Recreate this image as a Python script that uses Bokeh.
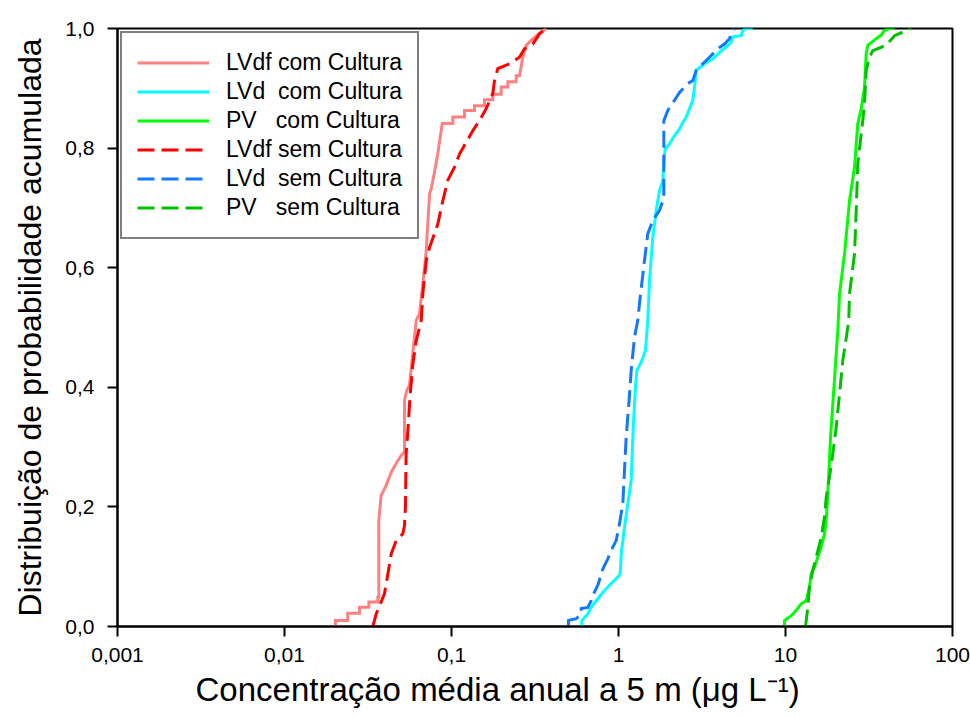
from bokeh.plotting import figure
from bokeh.models import (Range1d, FixedTicker, CustomJSTickFormatter, Legend, LegendItem,
                          ColumnDataSource, Title)
from bokeh.embed import file_html
from bokeh.resources import INLINE

# ---------------- data ----------------
x_ticks = [0.001, 0.01, 0.1, 1, 10, 100]
x_tick_labels = ["0,001", "0,01", "0,1", "1", "10", "100"]
y_ticks = [0.0, 0.2, 0.4, 0.6, 0.8, 1.0]
y_tick_labels = ["0,0", "0,2", "0,4", "0,6", "0,8", "1,0"]

series_labels = ["LVdf com Cultura", "LVd\u00a0\u00a0com Cultura", "PV\u00a0\u00a0\u00a0com Cultura",
                 "LVdf sem Cultura", "LVd\u00a0\u00a0sem Cultura", "PV\u00a0\u00a0\u00a0sem Cultura"]

lvdf_com_x = [0.0202, 0.0202, 0.0239, 0.0239, 0.0281, 0.0281, 0.0320, 0.0320, 0.0362, 0.0362,
              0.0367, 0.0367, 0.0379, 0.0406, 0.0436, 0.0467, 0.0500, 0.0523, 0.0523, 0.0540,
              0.0560, 0.0615, 0.0643, 0.0670, 0.0706, 0.0739, 0.0756, 0.0791, 0.0828, 0.0880,
              0.1018, 0.1018, 0.1196, 0.1196, 0.1373, 0.1373, 0.1576, 0.1576, 0.1767, 0.1767,
              0.1984, 0.1984, 0.2174, 0.2174, 0.2440, 0.2440, 0.2554, 0.2673, 0.2802, 0.300,
              0.330, 0.369]
lvdf_com_y = [0.000, 0.010, 0.010, 0.022, 0.022, 0.032, 0.032, 0.041, 0.041, 0.049,
              0.049, 0.177, 0.219, 0.236, 0.258, 0.273, 0.286, 0.292, 0.378, 0.395,
              0.403, 0.512, 0.523, 0.567, 0.629, 0.724, 0.732, 0.760, 0.791, 0.841,
              0.841, 0.852, 0.852, 0.863, 0.863, 0.871, 0.871, 0.881, 0.881, 0.890,
              0.890, 0.902, 0.902, 0.911, 0.911, 0.921, 0.921, 0.952, 0.972, 0.980,
              0.990, 1.000]

lvd_com_x = [0.6029, 0.6029, 0.6551, 0.6863, 0.7357, 0.8054, 0.8834, 0.9687, 1.024, 1.038,
             1.086, 1.137, 1.191, 1.208, 1.230, 1.264, 1.287, 1.367, 1.451, 1.498,
             1.533, 1.605, 1.682, 1.761, 1.843, 1.886, 1.912, 2.020, 2.165, 2.320,
             2.427, 2.543, 2.662, 2.786, 2.852, 2.920, 3.273, 3.670, 4.025, 4.414,
             4.730, 4.835, 5.428, 5.549, 5.815, 6.370]
lvd_com_y = [0.000, 0.010, 0.021, 0.032, 0.043, 0.057, 0.069, 0.080, 0.088, 0.122,
             0.166, 0.205, 0.244, 0.289, 0.344, 0.400, 0.428, 0.442, 0.462, 0.512,
             0.579, 0.651, 0.696, 0.729, 0.746, 0.790, 0.799, 0.807, 0.821, 0.832,
             0.843, 0.852, 0.866, 0.880, 0.902, 0.930, 0.941, 0.949, 0.960, 0.969,
             0.977, 0.986, 0.988, 0.997, 1.000, 1.000]

pv_com_x = [9.863, 9.863, 10.82, 11.59, 12.42, 13.30, 13.92, 14.25, 14.92, 15.61,
            16.36, 17.12, 17.53, 17.92, 18.34, 18.60, 19.20, 19.93, 20.57, 21.06,
            22.56, 24.17, 25.90, 26.51, 27.10, 28.40, 29.72, 30.42, 31.10, 34.92,
            37.42, 39.15, 41.96, 44.95]
pv_com_y = [0.000, 0.010, 0.018, 0.027, 0.038, 0.043, 0.066, 0.088, 0.099, 0.116,
            0.133, 0.155, 0.177, 0.222, 0.278, 0.317, 0.372, 0.439, 0.495, 0.556,
            0.623, 0.712, 0.768, 0.807, 0.841, 0.866, 0.902, 0.958, 0.972, 0.983,
            0.989, 0.997, 1.000, 1.000]

lvdf_sem_x = [0.0338, 0.0354, 0.0379, 0.0397, 0.0416, 0.0436, 0.0467, 0.0511, 0.0523, 0.0530,
              0.0535, 0.0548, 0.0566, 0.0587, 0.0615, 0.0659, 0.0673, 0.0706, 0.0739, 0.0791,
              0.0828, 0.0887, 0.0950, 0.1042, 0.1117, 0.1225, 0.1341, 0.1471, 0.1613, 0.1767,
              0.1809, 0.1893, 0.2226, 0.2554, 0.2735, 0.3067, 0.3364, 0.3691]
lvdf_sem_y = [0.000, 0.021, 0.041, 0.055, 0.088, 0.122, 0.144, 0.155, 0.169, 0.200,
              0.289, 0.328, 0.389, 0.439, 0.478, 0.512, 0.556, 0.612, 0.634, 0.657,
              0.673, 0.712, 0.746, 0.768, 0.790, 0.810, 0.829, 0.846, 0.866, 0.891,
              0.913, 0.933, 0.941, 0.952, 0.966, 0.974, 0.991, 1.000]

lvd_sem_x = [0.502, 0.502, 0.558, 0.598, 0.598, 0.655, 0.686, 0.702, 0.752, 0.805,
             0.863, 0.904, 0.969, 1.014, 1.061, 1.086, 1.112, 1.153, 1.191, 1.247,
             1.305, 1.335, 1.431, 1.498, 1.605, 1.761, 1.843, 1.868, 1.868, 1.974,
             2.165, 2.320, 2.600, 2.786, 2.920, 3.197, 3.506, 3.932, 4.312, 4.620,
             4.835, 4.950]
lvd_sem_y = [0.000, 0.010, 0.013, 0.021, 0.030, 0.032, 0.043, 0.052, 0.069, 0.096,
             0.113, 0.127, 0.144, 0.172, 0.205, 0.261, 0.317, 0.372, 0.428, 0.484,
             0.512, 0.540, 0.612, 0.657, 0.679, 0.696, 0.712, 0.724, 0.846, 0.863,
             0.880, 0.893, 0.908, 0.913, 0.930, 0.941, 0.952, 0.966, 0.974, 0.983,
             0.997, 1.000]

pv_sem_x = [13.18, 13.60, 13.92, 14.57, 15.27, 16.36, 17.12, 17.53, 18.34, 19.20,
            20.12, 21.06, 22.04, 23.29, 23.93, 24.17, 25.90, 26.51, 27.10, 28.40,
            29.03, 29.72, 30.42, 31.84, 33.33, 40.09, 44.95, 50.39, 52.81, 56.58]
pv_sem_y = [0.000, 0.032, 0.066, 0.094, 0.116, 0.149, 0.183, 0.216, 0.250, 0.289,
            0.333, 0.389, 0.445, 0.489, 0.512, 0.556, 0.623, 0.696, 0.774, 0.824,
            0.846, 0.874, 0.930, 0.952, 0.963, 0.972, 0.988, 0.994, 1.000, 1.000]

x_title = "Concentração média anual a 5 m (μg L\u207b\u00b9)"
y_title = "Distribuição de probabilidade acumulada"

# ---------------- styles ----------------
FONT = "Liberation Sans"
series = [
    (lvdf_com_x, lvdf_com_y, "#FF8080", "solid"),
    (lvd_com_x, lvd_com_y, "#00FFFF", "solid"),
    (pv_com_x, pv_com_y, "#00FF00", "solid"),
    (lvdf_sem_x, lvdf_sem_y, "#FF0000", "17 7"),
    (lvd_sem_x, lvd_sem_y, "#1478FF", "17 7"),
    (pv_sem_x, pv_sem_y, "#00C000", "17 7"),
]

p = figure(width=970, height=718, x_axis_type="log",
           x_range=Range1d(0.001, 100), y_range=Range1d(0, 1),
           output_backend="svg", toolbar_location=None,
           min_border_left=117, min_border_right=18, min_border_top=28, min_border_bottom=92,
           background_fill_color="white", border_fill_color="white")

p.xgrid.visible = False
p.ygrid.visible = False
p.outline_line_color = "black"
p.outline_line_width = 2

renderers = []
for xs, ys, col, dash in series:
    src = ColumnDataSource(dict(x=xs, y=ys))
    r = p.line("x", "y", source=src, line_color=col, line_width=3, line_dash=dash,
               line_join="miter")
    renderers.append(r)

fmt_code = """
const k = vals.findIndex(v => Math.abs(v - tick) <= 1e-9 * Math.max(1, Math.abs(v)));
return k >= 0 ? labs[k] : "";
"""

xa = p.xaxis[0]
xa.ticker = FixedTicker(ticks=x_ticks, minor_ticks=[])
xa.formatter = CustomJSTickFormatter(args=dict(vals=x_ticks, labs=x_tick_labels), code=fmt_code)
ya = p.yaxis[0]
ya.ticker = FixedTicker(ticks=y_ticks, minor_ticks=[])
ya.formatter = CustomJSTickFormatter(args=dict(vals=y_ticks, labs=y_tick_labels), code=fmt_code)

for ax in (xa, ya):
    ax.axis_line_width = 2
    ax.axis_line_color = "black"
    ax.major_tick_line_width = 2
    ax.major_tick_line_color = "black"
    ax.major_tick_out = 10
    ax.major_tick_in = 0
    ax.minor_tick_out = 0
    ax.minor_tick_in = 0
    ax.major_label_text_font = FONT
    ax.major_label_text_font_size = "21px"
    ax.major_label_text_color = "black"
    ax.axis_label_text_font = FONT
    ax.axis_label_text_font_size = "32px"
    ax.axis_label_text_font_style = "normal"
    ax.axis_label_text_color = "black"

ya.axis_label = y_title
xa.major_label_standoff = 11
ya.major_label_standoff = 13
ya.axis_label_standoff = 14

# x-axis title, placed left of centre as in the reference
p.add_layout(Title(text=x_title, align="left", offset=78, standoff=9,
                   text_font=FONT, text_font_size="33px", text_font_style="normal",
                   text_color="black"), "below")

items = [LegendItem(label=lab, renderers=[r]) for lab, r in zip(series_labels, renderers)]
legend = Legend(items=items, location="top_left", margin=3,
                border_line_color="black", border_line_width=2,
                background_fill_color="white", background_fill_alpha=1.0,
                label_text_font=FONT, label_text_font_size="23px",
                label_text_color="black",
                glyph_width=72, glyph_height=29, label_height=29,
                spacing=0, padding=15, label_standoff=17)
p.add_layout(legend)

open("out.html", "w").write(file_html(p, INLINE))
